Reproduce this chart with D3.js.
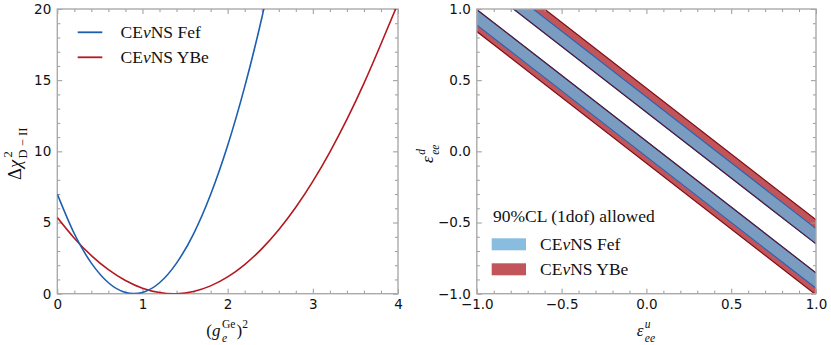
<!DOCTYPE html>
<html><head><meta charset="utf-8">
<script src="https://cdn.jsdelivr.net/npm/d3@7/dist/d3.min.js"></script>
<style>
html,body{margin:0;padding:0;background:#fff;}
svg{display:block;}
.tick text{font-family:"DejaVu Sans",sans-serif;font-size:13.5px;fill:#111;}
.math text{font-family:"Liberation Serif",serif;fill:#111;}
.serif{font-family:"Liberation Serif",serif;}
</style></head>
<body>
<svg id="c" width="831" height="345"></svg>
<script>
// ---------------- data ----------------
const seriesNames = ["Fef", "YBe"];
const gGridFef = [0,0.2,0.4,0.6,0.8,1.0,1.2,1.4,1.6,1.8,2.0,2.2,2.4,2.6];
const chiFef   = [7.0,4.21,2.15,0.77,0.09,0.09,0.77,2.15,4.21,6.97,10.41,14.53,19.35,24.85];
const gGridYBe = [0,0.2,0.4,0.6,0.8,1.0,1.2,1.4,1.6,1.8,2.0,2.2,2.4,2.6,2.8,3.0,3.2,3.4,3.6,3.8,4.0];
const chiYBe   = [5.35,3.90,2.68,1.69,0.93,0.39,0.08,0.0,0.16,0.55,1.18,2.05,3.15,4.49,6.07,7.89,9.95,12.24,14.77,17.54,20.4];
const leftXTicks = [0,1,2,3,4];
const leftYTicks = [0,5,10,15,20];
const epsTicks = [-1.0,-0.5,0.0,0.5,1.0];
// allowed bands: eps_d = intercept + slope * eps_u
const bandSlope = -0.925;
const fefBands = [[-0.037,0.071],[0.275,0.382]];
const ybeBands = [[-0.083,0.071],[0.275,0.444]];
const legendTitle = "90%CL (1dof) allowed";

// ---------------- layout ----------------
const svg = d3.select("#c");
const P1 = {x0:57.3, x1:398, y0:9, y1:293.7};
const P2 = {x0:476.8, x1:816, y0:9, y1:293.7};
const blue = "#1c5fae", red = "#b3191f";

const x1 = d3.scaleLinear().domain([0,4]).range([P1.x0,P1.x1]);
const y1 = d3.scaleLinear().domain([0,20]).range([P1.y1,P1.y0]);
const x2 = d3.scaleLinear().domain([-1,1]).range([P2.x0,P2.x1]);
const y2 = d3.scaleLinear().domain([-1,1]).range([P2.y1,P2.y0]);

const defs = svg.append("defs");
function clip(id,P){defs.append("clipPath").attr("id",id).append("rect")
  .attr("x",P.x0).attr("y",P.y0).attr("width",P.x1-P.x0).attr("height",P.y1-P.y0);}
clip("cl1",P1); clip("cl2",P2);

function range(a,b,s){const r=[];for(let v=a;v<=b+1e-9;v+=s)r.push(+v.toFixed(6));return r;}
function minor(a,b,s,maj){return range(a,b,s).filter(v=>!maj.some(m=>Math.abs(m-v)<1e-6));}

function axes(P,xs,ys,xt,yt,xmin,ymin,fmt){
  const g = svg.append("g");
  const mk = (axis,tr,vals,size,lab)=>{
    const a = g.append("g").attr("transform",tr)
      .call(axis.tickValues(vals).tickSize(size).tickPadding(lab?6:0).tickFormat(lab?fmt:""));
    a.select(".domain").remove();
    a.selectAll("line").attr("stroke","#999").attr("stroke-width",1);
    return a;
  };
  mk(d3.axisBottom(xs),`translate(0,${P.y1})`,xt,-5,true);
  mk(d3.axisBottom(xs),`translate(0,${P.y1})`,xmin,-3,false);
  mk(d3.axisTop(xs),`translate(0,${P.y0})`,xt,-5,false);
  mk(d3.axisTop(xs),`translate(0,${P.y0})`,xmin,-3,false);
  mk(d3.axisLeft(ys),`translate(${P.x0},0)`,yt,-5,true);
  mk(d3.axisLeft(ys),`translate(${P.x0},0)`,ymin,-3,false);
  mk(d3.axisRight(ys),`translate(${P.x1},0)`,yt,-5,false);
  mk(d3.axisRight(ys),`translate(${P.x1},0)`,ymin,-3,false);
  g.append("rect").attr("x",P.x0).attr("y",P.y0).attr("width",P.x1-P.x0).attr("height",P.y1-P.y0)
    .attr("fill","none").attr("stroke","#aaa").attr("stroke-width",1.4);
}

// math label helper: sup and sub are stacked at the same x
function mathLabel(parent, pieces, fs){
  const g = parent.append("g").attr("class","math");
  let x=0;
  const sfs = fs*0.68;
  pieces.forEach(p=>{
    if(p.sup!==undefined || p.sub!==undefined){
      let w=0;
      if(p.sup!==undefined){
        const t=g.append("text").attr("x",x+(p.supDx||0)).attr("y",-fs*0.47).style("font-size",sfs+"px")
          .style("font-style",p.supI?"italic":"normal").text(p.sup);
        w=Math.max(w,t.node().getComputedTextLength()+(p.supDx||0));
      }
      if(p.sub!==undefined){
        const t=g.append("text").attr("x",x).attr("y",fs*0.33).style("font-size",sfs+"px")
          .style("font-style",p.subI?"italic":"normal").text(p.sub);
        w=Math.max(w,t.node().getComputedTextLength());
      }
      x+=w+1;
    } else {
      const t=g.append("text").attr("x",x).attr("y",0).style("font-size",fs+"px")
        .style("font-style",p.i?"italic":"normal").text(p.t);
      x+=t.node().getComputedTextLength()+(p.i?1.5:0);
    }
  });
  return {g, w:x};
}

function seriesLabel(x,y,name){
  const t = svg.append("text").attr("class","serif").attr("x",x).attr("y",y)
    .style("font-size","17.5px").attr("fill","#111");
  t.append("tspan").text("CE");
  t.append("tspan").style("font-style","italic").text("ν");
  t.append("tspan").text("NS "+name);
}

// ---------------- left panel ----------------
axes(P1,x1,y1,leftXTicks,leftYTicks,minor(0,4,0.2,leftXTicks),minor(0,20,1,leftYTicks),d3.format("d"));
const line1 = d3.line().curve(d3.curveNatural);
const cg1 = svg.append("g").attr("clip-path","url(#cl1)");
cg1.append("path").attr("d",line1(gGridYBe.map((g,i)=>[x1(g),y1(chiYBe[i])])))
  .attr("fill","none").attr("stroke",red).attr("stroke-width",1.6);
cg1.append("path").attr("d",line1(gGridFef.map((g,i)=>[x1(g),y1(chiFef[i])])))
  .attr("fill","none").attr("stroke",blue).attr("stroke-width",1.6);

// legend left
[blue,red].forEach((c,i)=>{
  const yy = 32.3 + i*25;
  svg.append("line").attr("x1",77.7).attr("x2",102.3).attr("y1",yy).attr("y2",yy)
    .attr("stroke",c).attr("stroke-width",1.8);
  seriesLabel(120.5, yy+5.5, seriesNames[i]);
});

// axis labels left
{
  const gy = svg.append("g").attr("transform","translate(21,180) rotate(-90)");
  mathLabel(gy,[{t:"Δ"},{t:"χ",i:true},{sup:"2",sub:"D − II",supDx:1}],18.5);
  const lx = mathLabel(svg,[{t:"("},{t:"g",i:true},{sup:"Ge",sub:"e",subI:true}, {t:")"},{sup:"2"}],17);
  lx.g.attr("transform",`translate(${(P1.x0+P1.x1)/2-lx.w/2},336)`);
}

// ---------------- right panel ----------------
const cg2 = svg.append("g").attr("clip-path","url(#cl2)");
const area = d3.area().x(d=>x2(d.u)).y0(d=>y2(d.lo)).y1(d=>y2(d.hi));
const bandPts = b=>[-1.05,1.05].map(u=>({u, lo:b[0]+bandSlope*u, hi:b[1]+bandSlope*u}));
const edge = d3.line().x(d=>x2(d[0])).y(d=>y2(d[1]));
const edgePts = c=>[-1.05,1.05].map(u=>[u,c+bandSlope*u]);
ybeBands.forEach(b=>cg2.append("path").attr("d",area(bandPts(b))).attr("fill","#c2555a"));
fefBands.forEach(b=>cg2.append("path").attr("d",area(bandPts(b))).attr("fill","#7b9cc1"));
fefBands.forEach(b=>b.forEach(c=>cg2.append("path").attr("d",edge(edgePts(c)))
  .attr("stroke","#2463b3").attr("stroke-width",1.1).attr("fill","none")));
ybeBands.forEach(b=>b.forEach(c=>{
  const shared = fefBands.some(f=>f.includes(c));
  cg2.append("path").attr("d",edge(edgePts(c)))
    .attr("stroke",shared?"#551a35":"#7d0c14").attr("stroke-width",shared?1.15:1.2).attr("fill","none");
}));

axes(P2,x2,y2,epsTicks,epsTicks,minor(-1,1,0.1,epsTicks),minor(-1,1,0.1,epsTicks),d3.format(".1f"));

// legend right
svg.append("text").attr("class","serif").attr("x",493).attr("y",222)
  .style("font-size","17.5px").attr("fill","#111").text(legendTitle);
["#88bde0","#c2555a"].forEach((c,i)=>{
  const yy = 238.3 + i*25;
  svg.append("rect").attr("x",491.7).attr("y",yy).attr("width",34.3).attr("height",12).attr("fill",c);
  seriesLabel(540, yy+11.5, seriesNames[i]);
});

// axis labels right
{
  const rx = mathLabel(svg,[{t:"ε",i:true},{sup:"u",sub:"ee",supI:true,subI:true}],17);
  rx.g.attr("transform",`translate(${(P2.x0+P2.x1)/2-rx.w/2},336)`);
  const gy = svg.append("g").attr("transform","translate(433,163) rotate(-90)");
  mathLabel(gy,[{t:"ε",i:true},{sup:"d",sub:"ee",supI:true,subI:true}],17);
}
</script>
</body></html>
